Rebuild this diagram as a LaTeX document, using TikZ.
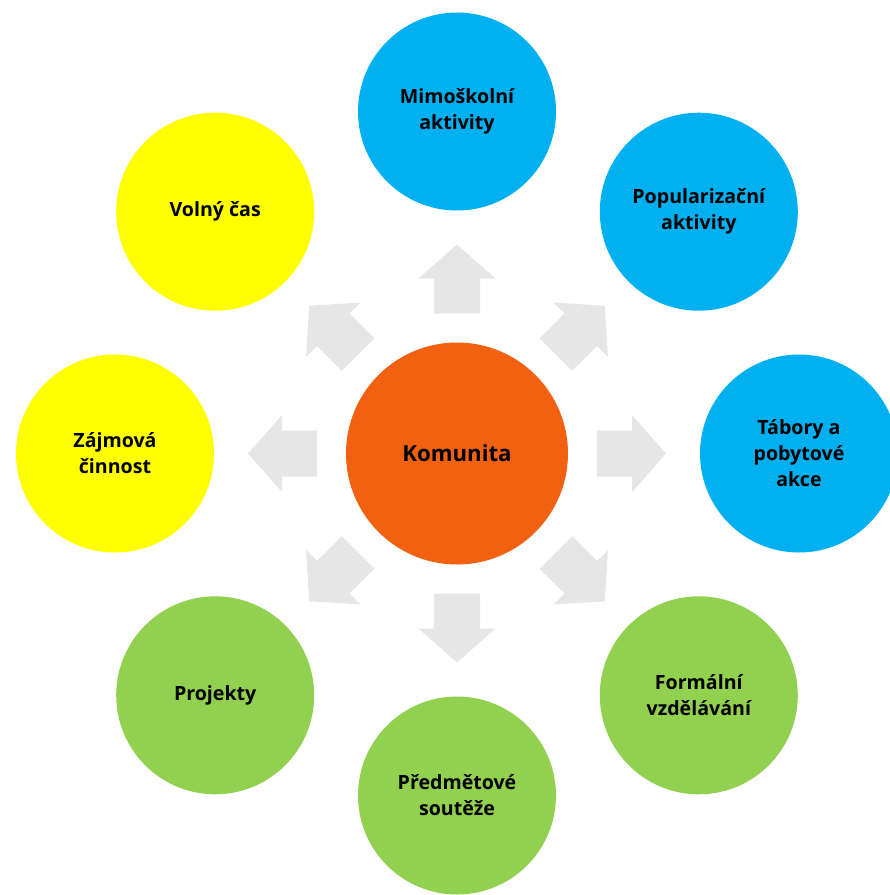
\documentclass[tikz,border=0pt]{standalone}
\usepackage{fontspec}
\setmainfont{Open Sans}
\definecolor{hubcol}{HTML}{F26111}
\definecolor{bluecol}{HTML}{00B0F0}
\definecolor{yelcol}{HTML}{FFFF00}
\definecolor{grncol}{HTML}{92D050}
\definecolor{arrcol}{HTML}{E7E6E6}
\tikzset{
  bubble/.style={circle, minimum size=198pt, inner sep=0pt, align=center,
    font=\fontsize{19.6}{26}\selectfont\bfseries, text=black},
  hubbubble/.style={bubble, minimum size=222pt, fill=hubcol, font=\fontsize{22.2}{26}\selectfont\bfseries},
  blockarrow/.style={fill=arrcol, draw=none}
}
\begin{document}
\begin{tikzpicture}[x=1pt,y=-1pt]
\useasboundingbox (0,0) rectangle (890,895);
\clip (0,0) rectangle (890,895);
\node[hubbubble] (hub) at (457,453.5) {Komunita};
\foreach \ang in {0,45,...,315}{
  \begin{scope}[shift={(hub.center)}, rotate=\ang]
    \fill[blockarrow] (140,-23) -- (175,-23) -- (175,-38.5) -- (209,0) -- (175,38.5) -- (175,23) -- (140,23) -- cycle;
  \end{scope}
}
\node[bubble, fill=bluecol] (n1) at (457,111.5) {Mimoškolní\\aktivity};
\node[bubble, fill=bluecol] (n2) at (698.8,211.7) {Popularizační\\aktivity};
\node[bubble, fill=bluecol] (n3) at (799,453.5) {Tábory a\\pobytové\\akce};
\node[bubble, fill=grncol] (n4) at (698.8,695.3) {Formální\\vzdělávání};
\node[bubble, fill=grncol] (n5) at (457,795.5) {Předmětové\\soutěže};
\node[bubble, fill=grncol] (n6) at (215.2,695.3) {Projekty};
\node[bubble, fill=yelcol] (n7) at (115,453.5) {Zájmová\\činnost};
\node[bubble, fill=yelcol] (n8) at (215.2,211.7) {Volný čas};
\end{tikzpicture}
\end{document}
